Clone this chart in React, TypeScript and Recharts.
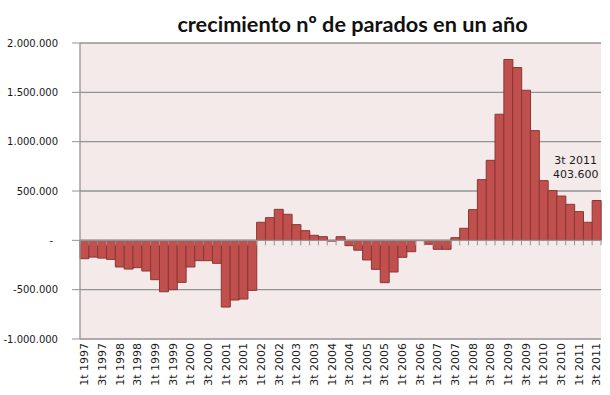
import { BarChart, Bar, CartesianGrid, XAxis, YAxis, ReferenceLine, LabelList } from "recharts";

const quarters = [
  "1t 1997", "2t 1997", "3t 1997", "4t 1997",
  "1t 1998", "2t 1998", "3t 1998", "4t 1998",
  "1t 1999", "2t 1999", "3t 1999", "4t 1999",
  "1t 2000", "2t 2000", "3t 2000", "4t 2000",
  "1t 2001", "2t 2001", "3t 2001", "4t 2001",
  "1t 2002", "2t 2002", "3t 2002", "4t 2002",
  "1t 2003", "2t 2003", "3t 2003", "4t 2003",
  "1t 2004", "2t 2004", "3t 2004", "4t 2004",
  "1t 2005", "2t 2005", "3t 2005", "4t 2005",
  "1t 2006", "2t 2006", "3t 2006", "4t 2006",
  "1t 2007", "2t 2007", "3t 2007", "4t 2007",
  "1t 2008", "2t 2008", "3t 2008", "4t 2008",
  "1t 2009", "2t 2009", "3t 2009", "4t 2009",
  "1t 2010", "2t 2010", "3t 2010", "4t 2010",
  "1t 2011", "2t 2011", "3t 2011",
];

// variación interanual del nº de parados (personas)
const growth = [
  -186000, -170000, -180000, -193000,
  -270000, -291000, -277000, -311000,
  -399000, -521000, -500000, -426000,
  -270000, -206000, -206000, -233000,
  -676000, -605000, -595000, -507000,
  183000, 230000, 314000, 264000,
  159000, 98000, 51000, 37000,
  -8000, 37000, -54000, -100000,
  -199000, -294000, -429000, -321000,
  -172000, -115000, -3000, -40000,
  -91000, -91000, 27000, 122000,
  311000, 615000, 811000, 1278000,
  1833000, 1751000, 1521000, 1112000,
  605000, 504000, 449000, 365000,
  291000, 183000, 403600,
];

const yTicks = [-1000000, -500000, 0, 500000, 1000000, 1500000, 2000000];

const rows = quarters.map((q, i) => ({ q, v: growth[i] }));
const lastIdx = rows.length - 1;

const GRID = "#939393";
const TXT = "#1a1a1a";
const FONT = "'DejaVu Sans', Verdana, sans-serif";

function miles(n: number) {
  const s = Math.abs(Math.round(n)).toString().replace(/\B(?=(\d{3})+(?!\d))/g, ".");
  return (n < 0 ? "-" : "") + s;
}

function QuarterTick(props: any) {
  const { x, y, payload, index } = props;
  if (index % 2 !== 0) return <g />;
  return (
    <text
      x={x}
      y={y}
      transform={`rotate(-90, ${x}, ${y})`}
      textAnchor="end"
      dy="0.35em"
      fontSize={11}
      fontFamily={FONT}
      fill={TXT}
    >
      {payload.value}
    </text>
  );
}

function ValueTick(props: any) {
  const { x, y, payload } = props;
  const zero = payload.value === 0;
  return (
    <text x={zero ? x - 5 : x} y={y} dy="0.35em" textAnchor="end" fontSize={10} fontFamily={FONT} fill={TXT}>
      {zero ? "-" : miles(payload.value)}
    </text>
  );
}

function ZeroAxis(props: any) {
  const { x1, y1, x2, y2 } = props;
  const step = (x2 - x1) / quarters.length;
  return (
    <g>
      <line x1={x1} y1={y1} x2={x2} y2={y2} stroke={GRID} strokeWidth={1.3} />
      {Array.from({ length: quarters.length + 1 }, (_, i) => (
        <line key={i} x1={x1 + i * step} x2={x1 + i * step} y1={y1} y2={y1 + 5} stroke={GRID} />
      ))}
    </g>
  );
}

function LastLabel(props: any) {
  const { x, y, width, value, index } = props;
  if (index !== lastIdx) return null;
  const cx = x + width / 2 - 21;
  return (
    <g fontSize={11} fontFamily={FONT} fill={TXT} textAnchor="middle">
      <text x={cx} y={y - 40} dy="0.35em">{quarters[lastIdx]}</text>
      <text x={cx} y={y - 26} dy="0.35em">{miles(value)}</text>
    </g>
  );
}

export default function App() {
  return (
    <div style={{ position: "absolute", left: 0, top: 0, width: 610, height: 395, background: "#fff" }}>
      <div
        style={{
          position: "absolute",
          left: 95,
          top: 11,
          width: 515,
          textAlign: "center",
          fontFamily: "Lato, sans-serif",
          fontWeight: 700,
          fontSize: 21.7,
          lineHeight: "26px",
          color: "#111",
        }}
      >
        crecimiento nº de parados en un año
      </div>
      <BarChart
        width={610}
        height={395}
        data={rows}
        margin={{ top: 43, right: 9, bottom: 0, left: 0 }}
        barCategoryGap={0}
        barGap={0}
      >
        <CartesianGrid vertical={false} stroke={GRID} strokeWidth={1.3} fill="#f4eaea" />
        <XAxis
          dataKey="q"
          interval={0}
          height={56}
          axisLine={false}
          tickLine={false}
          tickSize={0}
          tickMargin={4}
          tick={<QuarterTick />}
        />
        <YAxis
          width={80}
          domain={[-1000000, 2000000]}
          ticks={yTicks}
          interval={0}
          tickSize={8}
          tickMargin={14}
          axisLine={{ stroke: GRID, strokeWidth: 1.3 }}
          tickLine={{ stroke: GRID }}
          tick={<ValueTick />}
        />
        <ReferenceLine y={0} shape={ZeroAxis} />
        <Bar dataKey="v" fill="#c0504d" stroke="#8c3533" strokeWidth={1} isAnimationActive={false}>
          <LabelList dataKey="v" content={LastLabel} />
        </Bar>
      </BarChart>
    </div>
  );
}
